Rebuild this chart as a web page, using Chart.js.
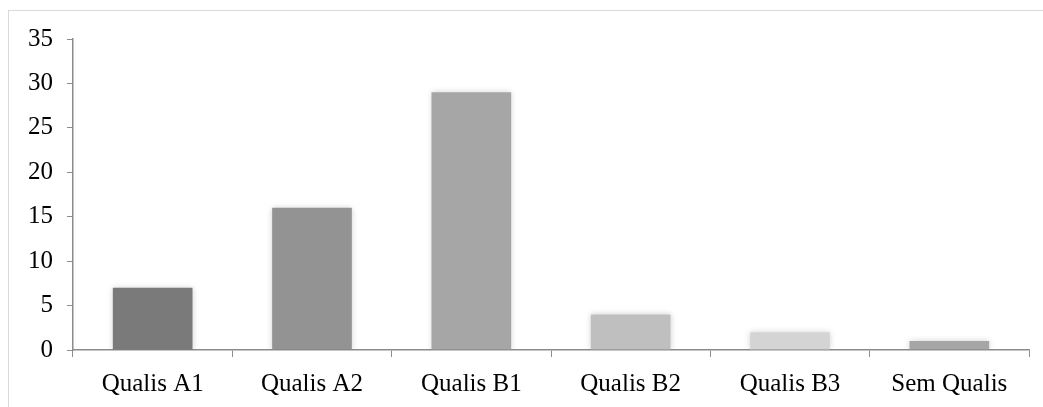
<!DOCTYPE html>
<html>
<head>
<meta charset="utf-8">
<script src="https://cdn.jsdelivr.net/npm/chart.js@4.4.1/dist/chart.umd.min.js"></script>
<style>
  body { margin: 0; background: #fff; overflow: hidden; }
  #marco { position: absolute; left: 8px; top: 10px; width: 1100px; height: 500px; border: 1px solid #d9d9d9; }
  #caja { position: absolute; left: 0; top: 0; width: 1043px; height: 407px; }
</style>
</head>
<body>
<div id="marco"></div>
<div id="caja"><canvas id="qualis"></canvas></div>
<script>
const categorias = ['Qualis A1', 'Qualis A2', 'Qualis B1', 'Qualis B2', 'Qualis B3', 'Sem Qualis'];
const valores = [7, 16, 29, 4, 2, 1];
const colores = ['#7a7a7a', '#939393', '#a6a6a6', '#bfbfbf', '#d4d4d4', '#a6a6a6'];

// sombra suave detras de las barras
const sombra = {
  id: 'sombra',
  beforeDatasetsDraw(chart) {
    const ctx = chart.ctx;
    ctx.save();
    ctx.shadowColor = 'rgba(0,0,0,0.18)';
    ctx.shadowBlur = 6;
  },
  afterDatasetsDraw(chart) {
    chart.ctx.restore();
  }
};

const ejeColor = '#8c8c8c';
const fuente = { family: '"Liberation Serif", "Times New Roman", serif', size: 25 };

new Chart(document.getElementById('qualis').getContext('2d'), {
  type: 'bar',
  data: {
    labels: categorias,
    datasets: [{
      data: valores,
      backgroundColor: colores,
      borderWidth: 0,
      categoryPercentage: 1,
      barPercentage: 0.5
    }]
  },
  options: {
    responsive: true,
    maintainAspectRatio: false,
    animation: false,
    layout: { padding: { top: 39, right: 14, left: 0, bottom: 0 } },
    plugins: {
      legend: { display: false },
      tooltip: { enabled: false }
    },
    scales: {
      x: {
        grid: { display: true, drawOnChartArea: false, tickLength: 7, color: ejeColor },
        border: { color: ejeColor, width: 1.5 },
        ticks: { color: '#000', font: fuente, padding: 12, maxRotation: 0 },
        afterFit(scale) { scale.height = 57; }
      },
      y: {
        min: 0,
        max: 35,
        grid: { display: true, drawOnChartArea: false, tickLength: 6, color: ejeColor },
        border: { color: ejeColor, width: 1.5 },
        ticks: { stepSize: 5, color: '#000', font: fuente, padding: 14 },
        afterFit(scale) { scale.width = 73; }
      }
    }
  },
  plugins: [sombra]
});
</script>
</body>
</html>
